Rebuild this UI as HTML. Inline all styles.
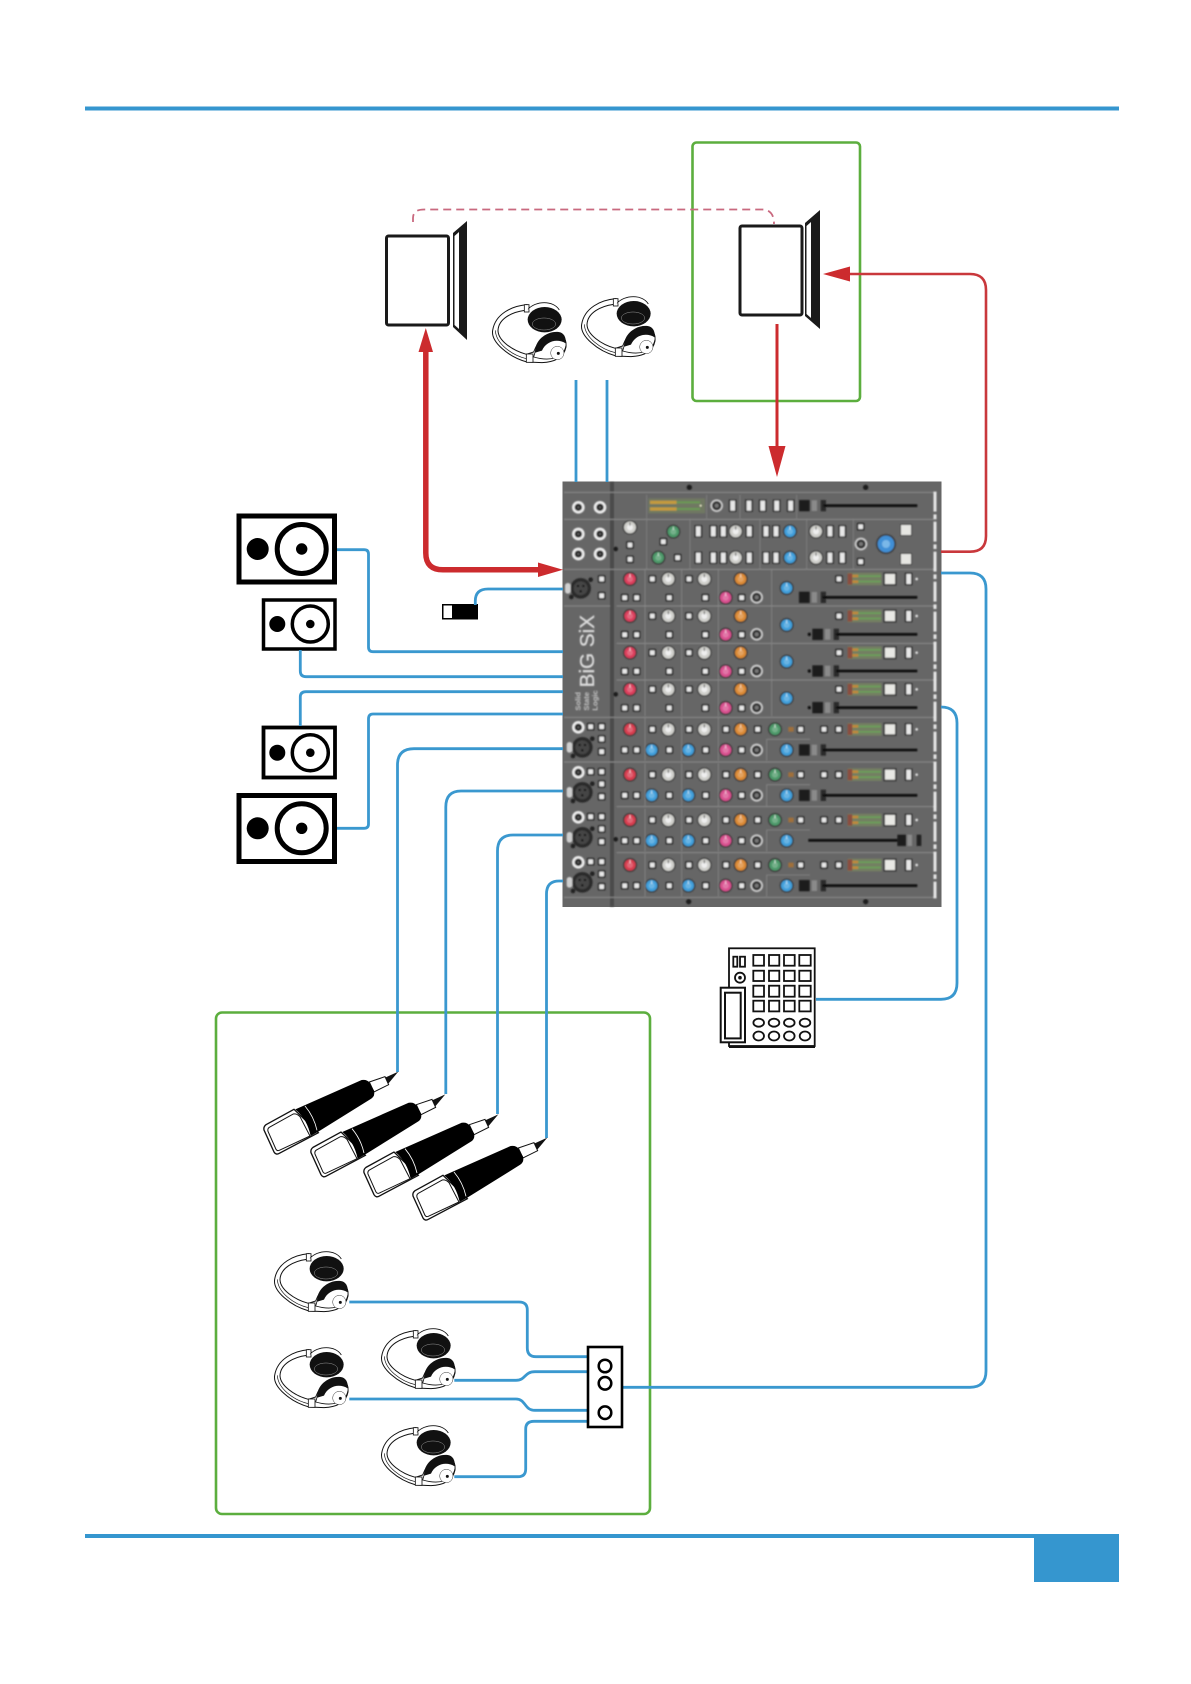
<!DOCTYPE html>
<html><head><meta charset="utf-8"><style>
html,body{margin:0;padding:0;background:#fff}
svg{display:block}
</style></head><body>
<svg xmlns="http://www.w3.org/2000/svg" width="1191" height="1684" viewBox="0 0 1191 1684">
<defs>
<filter id="bl" x="-2%" y="-2%" width="104%" height="104%"><feGaussianBlur stdDeviation="2.2"/></filter>
<g id="b"><rect x="-12" y="-12" width="24" height="24" rx="4" fill="#333"/><rect x="-7" y="-7" width="14" height="14" rx="2" fill="#e8e8e8"/></g>
<g id="t"><rect x="-12" y="-19" width="24" height="38" rx="2" fill="#333"/><rect x="-7" y="-15" width="14" height="30" fill="#e8e8e8"/></g>
<g id="k"><circle r="21" fill="#383838"/><circle r="17"/><circle r="9" fill="#fff" opacity=".22"/><rect x="-1.5" y="-15" width="3" height="10" fill="#fff" opacity=".7"/></g>
<g id="w"><circle r="22" fill="#3c3c3c"/><circle r="18" fill="#d0d0cc"/><circle r="9" fill="#eee"/><rect x="-1.5" y="-15" width="3" height="10" fill="#555"/></g>
<g id="d"><circle r="19" fill="#cfcfcf"/><circle r="14" fill="#333"/><circle r="6" fill="#777"/></g>
<g id="j"><circle r="19" fill="#ececec"/><circle r="11" fill="#222"/><circle r="4" fill="#555"/></g>
<g id="x"><circle r="31" fill="#2b2b2b"/><circle r="21" fill="#444"/><circle cx="-8" cy="-7" r="3.5" fill="#111"/><circle cx="8" cy="-7" r="3.5" fill="#111"/><circle cy="9" r="3.5" fill="#111"/><circle cx="30" cy="-26" r="7" fill="#222"/><circle cx="-28" cy="26" r="7" fill="#222"/><rect x="-47" y="-16" width="17" height="32" rx="8" fill="#cfcfcf"/></g>
<g id="m"><rect x="893" y="-19" width="102" height="38" fill="#737f62"/><rect x="893" y="-17" width="14" height="34" fill="#8b4d3f"/><rect x="907" y="-13" width="18" height="8" fill="#c08a3a"/><rect x="907" y="4" width="18" height="8" fill="#c08a3a"/><rect x="925" y="-11" width="68" height="5" fill="#6aa05a"/><rect x="925" y="5" width="68" height="5" fill="#6aa05a"/><rect x="1000" y="-20" width="40" height="40" fill="#3a3a3a"/><rect x="1005" y="-15" width="30" height="30" fill="#e8e8e4"/><use href="#t" x="1076"/><circle cx="1100" r="4" fill="#ddd"/></g>
<g id="chA">
<use href="#k" x="240" fill="#dc3e5c"/><use href="#b" x="307"/><use href="#w" x="355"/><use href="#b" x="417"/><use href="#w" x="463"/><use href="#k" x="572" fill="#dc8a35"/>
<use href="#b" x="224" y="56"/><use href="#b" x="260" y="56"/><use href="#b" x="358" y="56"/><use href="#b" x="466" y="56"/><use href="#k" x="527" y="56" fill="#d9508f"/><use href="#b" x="575" y="56"/><use href="#d" x="620" y="55"/><use href="#k" x="710" y="27" fill="#3f9fdb"/><use href="#b" x="867"/><use href="#m"/>
<path d="M285 -28V80M395 -28V80M505 -28V80M665 -28V80" stroke="#878787" stroke-width="2.500" fill="none"/>
</g>
<g id="chB">
<use href="#k" x="240" fill="#d83c50"/><use href="#b" x="307"/><use href="#w" x="355"/><use href="#b" x="417"/><use href="#w" x="463"/><use href="#b" x="528"/><use href="#k" x="572" fill="#dc8a35"/><use href="#b" x="623"/><use href="#k" x="675" fill="#4e9a6a"/><rect x="715" y="-7" width="16" height="14" fill="#a0703a"/><use href="#b" x="752"/><use href="#b" x="822"/><use href="#b" x="866"/><use href="#m"/>
<use href="#b" x="224" y="62"/><use href="#b" x="260" y="62"/><use href="#k" x="305" y="62" fill="#3f9fdb"/><use href="#b" x="358" y="62"/><use href="#k" x="415" y="62" fill="#3f9fdb"/><use href="#b" x="467" y="62"/><use href="#k" x="527" y="62" fill="#d9508f"/><use href="#b" x="575" y="62"/><use href="#d" x="620" y="62"/><use href="#k" x="710" y="62" fill="#3f9fdb"/>
<path d="M285 -34V94M395 -34V94M505 -34V94M650 30V94M650 30H780" stroke="#878787" stroke-width="2.500" fill="none"/>
</g>
<g id="lB"><use href="#j" x="85" y="-6"/><use href="#b" x="122" y="-8"/><use href="#b" x="155" y="-8"/><use href="#b" x="155" y="29"/><use href="#b" x="155" y="67"/><use href="#x" x="97" y="54"/></g>
<g id="fa"><rect x="-18" y="-17" width="32" height="34" fill="#1c1c1c"/><rect x="20" y="-16" width="16" height="32" fill="#8a8a8a"/></g>
<g id="hp" transform="scale(.3333)">
<path d="M105 8C60 12 10 35 2 85C-4 120 50 165 105 180L150 182C185 180 215 170 222 135C224 110 210 95 195 92C170 92 140 110 125 150L103 157C60 145 18 115 18 85C20 50 60 30 98 25L115 20Z" fill="#fff" stroke="#111" stroke-width="3"/>
<path d="M10 85C12 125 60 160 103 170" fill="none" stroke="#111" stroke-width="2"/>
<rect x="103" y="156" width="20" height="25" fill="#fff" stroke="#111" stroke-width="2.500"/><rect x="97" y="8" width="14" height="22" fill="#fff" stroke="#111" stroke-width="2.500"/>
<path d="M108 22C130 -4 185 -6 202 24" fill="#fff" stroke="#111" stroke-width="2.500"/>
<ellipse cx="158" cy="53" rx="51" ry="38" fill="#111"/><ellipse cx="156" cy="66" rx="35" ry="18" fill="none" stroke="#999" stroke-width="1.500"/>
<path d="M125 165C170 178 215 172 222 130C224 110 210 95 195 92C160 100 135 125 130 148Z" fill="#fff" stroke="#111" stroke-width="2.500"/>
<path d="M130 152C126 115 165 86 200 90C215 92 223 105 221 124C195 108 162 118 150 146Z" fill="#111"/>
<circle cx="196" cy="153" r="20" fill="#fff" stroke="#333" stroke-width="1.500"/><circle cx="199" cy="154" r="4.500" fill="#111"/>
</g>
<g id="mic" transform="translate(250,1050) scale(.3333)">
<path d="M445 65L403 84L414 102Z" fill="#111"/>
<path d="M358 96L405 80L416 104L372 126Z" fill="#fff" stroke="#111" stroke-width="3"/>
<path d="M48 224L132 178L205 248L88 310Q78 316 72 306L42 240Q40 230 48 224Z" fill="#fff" stroke="#111" stroke-width="4"/>
<path d="M58 232L130 192Q140 190 150 200L180 258L88 301Q82 304 78 298L54 244Q52 236 58 232Z" fill="#fff" stroke="#111" stroke-width="3"/>
<path d="M136 178L335 90Q352 88 358 98L372 122Q376 138 364 146L205 245L182 258C175 225 162 200 136 178Z" fill="#000"/>
<path d="M165 168Q192 200 201 241" stroke="#fff" stroke-width="2.500" fill="none"/>
</g>
</defs>

<rect width="1191" height="1684" fill="#fff"/>

<!-- header / footer -->
<rect x="85" y="106.500" width="1034" height="4" fill="#3596cf"/>
<rect x="85" y="1534" width="1034" height="4" fill="#3596cf"/>
<rect x="1034" y="1534" width="85" height="48" fill="#3596cf"/>

<!-- green frames -->
<rect x="692.500" y="142.500" width="167.500" height="258.500" rx="4" fill="none" stroke="#5cae3e" stroke-width="2.600"/>
<rect x="216" y="1012.500" width="434" height="501.500" rx="6" fill="none" stroke="#5cae3e" stroke-width="2.600"/>

<!-- dashed link -->
<path d="M413 222V218Q413 209.500 424 209.500H762Q774 209.500 774 224" fill="none" stroke="#c9697f" stroke-width="1.800" stroke-dasharray="8 5"/>

<!-- laptops -->
<rect x="386.500" y="236" width="62" height="89" rx="2" fill="#fff" stroke="#1a1a1a" stroke-width="3"/>
<path d="M453 233L467 221V340L453 327Z" fill="#1a1a1a"/><path d="M454.500 236L459 232V329L454.500 325Z" fill="#fff"/>
<rect x="740" y="226" width="62" height="89" rx="2" fill="#fff" stroke="#1a1a1a" stroke-width="3"/>
<path d="M805 223L820 210V329L805 316Z" fill="#1a1a1a"/><path d="M806.500 226L811 222V318L806.500 314Z" fill="#fff"/>

<!-- headphones -->
<use href="#hp" transform="translate(492,302)"/>
<use href="#hp" transform="translate(581,296)"/>
<use href="#hp" transform="translate(274,1251)"/>
<use href="#hp" transform="translate(381,1328)"/>
<use href="#hp" transform="translate(274,1347)"/>
<use href="#hp" transform="translate(381,1425)"/>

<!-- mixer -->
<rect x="562.500" y="481.500" width="379" height="425.500" fill="#666"/>
<g transform="translate(550,470) scale(.33333)" filter="url(#bl)">
<rect x="180" y="36" width="12" height="1274" fill="#4c4c4c"/>
<path d="M42 67H1160M42 148H1160M42 298H1160M42 408H180M200 408H1160M200 520H1160M200 630H1160M42 742H1160M42 876H1160M200 1010H1160M200 1148H1160M42 1282H1160" stroke="#8c8c8c" stroke-width="3" fill="none"/>
<path d="M290 75V145M470 75V145M570 75V145M740 75V145M290 150V298M420 150V298M630 150V298M770 150V298M910 150V298" stroke="#828282" stroke-width="2.500" fill="none"/>
<path d="M1155 65V1285" stroke="#e6e6e6" stroke-width="9" stroke-dasharray="60 8 14 8" fill="none"/>
<circle cx="418" cy="52" r="8" fill="#1c1c1c"/><circle cx="947" cy="52" r="8" fill="#1c1c1c"/><circle cx="416" cy="1295" r="8" fill="#1c1c1c"/><circle cx="947" cy="1295" r="8" fill="#1c1c1c"/><circle cx="197" cy="237" r="7" fill="#1c1c1c"/><circle cx="197" cy="673" r="7" fill="#1c1c1c"/><circle cx="197" cy="1108" r="7" fill="#1c1c1c"/>
<use href="#j" x="85" y="112"/><use href="#j" x="150" y="112"/><use href="#j" x="85" y="192"/><use href="#j" x="150" y="192"/><use href="#j" x="85" y="252"/><use href="#j" x="150" y="252"/>
<use href="#x" x="92" y="355"/><use href="#b" x="155" y="327"/><use href="#b" x="155" y="377"/>

<!-- master top row -->
<rect x="295" y="85" width="170" height="45" fill="#6f7862"/>
<rect x="300" y="92" width="80" height="10" fill="#c49a3c"/><rect x="300" y="112" width="80" height="10" fill="#c49a3c"/><rect x="380" y="94" width="70" height="6" fill="#6a9a55"/><rect x="380" y="114" width="70" height="6" fill="#6a9a55"/><circle cx="452" cy="107" r="3" fill="#e8e8c8"/>
<use href="#d" x="500" y="107"/><use href="#t" x="548" y="107"/><use href="#t" x="597" y="107"/><use href="#t" x="638" y="107"/><use href="#t" x="680" y="107"/><use href="#t" x="722" y="107"/>
<use href="#fa" x="765" y="107"/><rect x="812" y="90" width="16" height="34" fill="#2b2b2b"/><rect x="820" y="103" width="282" height="8" fill="#111"/>

<!-- master row 2/3 -->
<use href="#w" x="240" y="172"/><use href="#b" x="240" y="225"/><use href="#b" x="240" y="268"/>
<use href="#k" x="370" y="185" fill="#4e9a6a"/><use href="#k" x="325" y="263" fill="#4e9a6a"/><use href="#b" x="340" y="215"/><use href="#b" x="383" y="263"/>
<use href="#t" x="445" y="184"/><use href="#t" x="490" y="184"/><use href="#t" x="520" y="184"/><use href="#w" x="557" y="184"/><use href="#t" x="598" y="184"/><use href="#t" x="648" y="184"/><use href="#t" x="678" y="184"/><use href="#k" x="720" y="184" fill="#3f9fdb"/><use href="#w" x="798" y="184"/><use href="#t" x="840" y="184"/><use href="#t" x="877" y="184"/>
<use href="#t" x="445" y="263"/><use href="#t" x="490" y="263"/><use href="#t" x="520" y="263"/><use href="#w" x="557" y="263"/><use href="#t" x="598" y="263"/><use href="#t" x="648" y="263"/><use href="#t" x="678" y="263"/><use href="#k" x="720" y="263" fill="#3f9fdb"/><use href="#w" x="798" y="263"/><use href="#t" x="840" y="263"/><use href="#t" x="877" y="263"/>
<use href="#b" x="932" y="170"/><use href="#d" x="933" y="222"/><use href="#b" x="932" y="275"/>
<circle cx="1008" cy="222" r="30" fill="#3c3c3c"/><circle cx="1008" cy="222" r="25" fill="#3f8fd6"/><circle cx="1008" cy="222" r="12" fill="#7ab8e8"/>
<rect x="1050" y="162" width="36" height="36" fill="#3f3f3f"/><rect x="1053" y="165" width="30" height="30" fill="#e6e6e2"/>
<rect x="1050" y="249" width="36" height="36" fill="#3f3f3f"/><rect x="1053" y="252" width="30" height="30" fill="#e6e6e2"/>

<!-- channels 1-4 -->
<use href="#chA" y="327"/><use href="#fa" x="765" y="382"/><rect x="812" y="365" width="16" height="34" fill="#2b2b2b"/><rect x="818" y="378" width="284" height="8" fill="#111"/>
<use href="#chA" y="438"/><circle cx="778" cy="493" r="5" fill="#111"/><use href="#fa" x="805" y="493"/><rect x="851" y="476" width="16" height="34" fill="#2b2b2b"/><rect x="858" y="489" width="244" height="8" fill="#111"/>
<use href="#chA" y="548"/><circle cx="778" cy="603" r="5" fill="#111"/><use href="#fa" x="805" y="603"/><rect x="851" y="586" width="16" height="34" fill="#2b2b2b"/><rect x="858" y="599" width="244" height="8" fill="#111"/>
<use href="#chA" y="658"/><circle cx="778" cy="713" r="5" fill="#111"/><use href="#fa" x="805" y="713"/><rect x="851" y="696" width="16" height="34" fill="#2b2b2b"/><rect x="858" y="709" width="244" height="8" fill="#111"/>

<!-- channels 5-8 -->
<use href="#chB" y="778"/><use href="#lB" y="778"/><use href="#fa" x="765" y="840"/><rect x="812" y="823" width="16" height="34" fill="#2b2b2b"/><rect x="818" y="836" width="284" height="8" fill="#111"/>
<use href="#chB" y="914"/><use href="#lB" y="913"/><use href="#fa" x="765" y="976"/><rect x="812" y="959" width="16" height="34" fill="#2b2b2b"/><rect x="818" y="972" width="284" height="8" fill="#111"/>
<use href="#chB" y="1050"/><use href="#lB" y="1048"/><rect x="775" y="1107" width="270" height="8" fill="#111"/><rect x="1042" y="1094" width="26" height="34" fill="#1c1c1c"/><rect x="1072" y="1094" width="14" height="34" fill="#8a8a8a"/><rect x="1100" y="1094" width="14" height="34" fill="#222"/>
<use href="#chB" y="1185"/><use href="#lB" y="1183"/><use href="#fa" x="765" y="1247"/><rect x="812" y="1230" width="16" height="34" fill="#2b2b2b"/><rect x="818" y="1243" width="284" height="8" fill="#111"/>

<!-- logo -->
<text transform="translate(132,652) rotate(-90)" font-family="'Liberation Sans',sans-serif" font-size="62" fill="#dcdcdc" stroke="#dcdcdc" stroke-width="1">BiG SiX</text>
<g font-family="'Liberation Sans',sans-serif" font-size="23" font-weight="bold" fill="#c4c4c4">
<text transform="translate(92,722) rotate(-90)">Solid</text>
<text transform="translate(117,722) rotate(-90)">State</text>
<text transform="translate(142,722) rotate(-90)">Logic</text>
</g>
</g>

<!-- speakers -->
<g fill="#fff" stroke="#000">
<rect x="239" y="516" width="95.500" height="66" stroke-width="5"/>
<circle cx="301.700" cy="549" r="24.500" stroke-width="5"/>
<rect x="263.500" y="600" width="71.500" height="49" stroke-width="3.500"/>
<circle cx="310.300" cy="624" r="18" stroke-width="3.500"/>
<rect x="263.500" y="727.500" width="71.500" height="50" stroke-width="3.800"/>
<circle cx="310.300" cy="752.700" r="18" stroke-width="3.500"/>
<rect x="239" y="795.500" width="95.500" height="66" stroke-width="5"/>
<circle cx="301.700" cy="828.300" r="24.500" stroke-width="5"/>
</g>
<g fill="#000">
<circle cx="257.700" cy="549" r="11"/><circle cx="301.700" cy="549" r="5.700"/>
<circle cx="277.300" cy="624" r="8"/><circle cx="310.300" cy="624" r="4.300"/>
<circle cx="277.300" cy="752.700" r="8"/><circle cx="310.300" cy="752.700" r="4.300"/>
<circle cx="257.700" cy="828.300" r="11"/><circle cx="301.700" cy="828.300" r="5.700"/>
</g>

<!-- switch -->
<rect x="442" y="604" width="36" height="15.500" fill="#000"/><rect x="443.500" y="605.500" width="8.500" height="12.500" fill="#fff"/>

<!-- blue cables -->
<g fill="none" stroke="#3a98cf" stroke-width="2.800">
<path d="M576 380V482M607 380V482"/>
<path d="M337 549.700H364Q368.500 549.700 368.500 554V647Q368.500 651.700 373 651.700H563"/>
<path d="M300.300 650V671Q300.300 676.700 306 676.700H563"/>
<path d="M300.300 726V697Q300.300 691.700 306 691.700H563"/>
<path d="M337 828.300H364Q368.500 828.300 368.500 824V719Q368.500 714 373 714H563"/>
<path d="M397.500 1072V765Q397.500 748.700 414 748.700H563"/>
<path d="M445.800 1094V807Q445.800 791 461 791H563"/>
<path d="M497.500 1114V851Q497.500 835 513 835H563"/>
<path d="M546.500 1138V894Q546.500 881 559 881H563"/>
<path d="M475.300 605V601Q475.300 589 488 589H563"/>
<path d="M941 573H970Q986 573 986 589V1371Q986 1387.300 970 1387.300H622"/>
<path d="M941 707Q957 707 957 723V983Q957 999.300 941 999.300H816"/>
<path d="M349.300 1302H519Q527.300 1302 527.300 1310V1348Q527.300 1356.700 536 1356.700H588"/>
<path d="M454.300 1380.300H516C526 1380.300 524 1371.700 535 1371.700H588"/>
<path d="M349.300 1399H516C526 1399 524 1410.300 535 1410.300H588"/>
<path d="M454.300 1476.700H518Q525.700 1476.700 525.700 1469V1429Q525.700 1421.300 534 1421.300H588"/>
</g>

<!-- red cables -->
<path d="M425.800 350V553Q425.800 569.800 443 569.800H540" fill="none" stroke="#cc2b2e" stroke-width="5.500"/>
<path d="M425.800 328L418.500 352H433Z" fill="#cc2b2e"/>
<path d="M563 569.800L538 562.500V577Z" fill="#cc2b2e"/>
<path d="M777 324V450" fill="none" stroke="#cc2b2e" stroke-width="3"/>
<path d="M777 477L768.500 446H785.500Z" fill="#cc2b2e"/>
<path d="M941 551.700H970Q986 551.700 986 536V290Q986 274 970 274H847" fill="none" stroke="#c9383c" stroke-width="2.600"/>
<path d="M823 274L850 266.500V281.500Z" fill="#cc2b2e"/>

<!-- drum machine -->
<g fill="#fff" stroke="#111" stroke-width="1.800">
<rect x="729" y="948.300" width="85.700" height="97.700"/>
<rect x="720.700" y="987.700" width="24.300" height="54.600" stroke-width="2"/>
<rect x="725" y="992.700" width="15.700" height="45.700" stroke-width="2"/>
<rect x="733.300" y="956.700" width="4" height="10"/><rect x="740" y="956.700" width="5" height="10"/>
<circle cx="740" cy="977.700" r="5"/>
<rect x="753.300" y="955" width="10.700" height="10.700"/><rect x="769" y="955" width="10.300" height="10.700"/><rect x="784" y="955" width="10.700" height="10.700"/><rect x="799.300" y="955" width="11.400" height="10.700"/>
<rect x="753.300" y="970.700" width="10.700" height="10.300"/><rect x="769" y="970.700" width="10.300" height="10.300"/><rect x="784" y="970.700" width="10.700" height="10.300"/><rect x="799.300" y="970.700" width="11.400" height="10.300"/>
<rect x="753.300" y="985.700" width="10.700" height="11"/><rect x="769" y="985.700" width="10.300" height="11"/><rect x="784" y="985.700" width="10.700" height="11"/><rect x="799.300" y="985.700" width="11.400" height="11"/>
<rect x="753.300" y="1000.700" width="10.700" height="10.700"/><rect x="769" y="1000.700" width="10.300" height="10.700"/><rect x="784" y="1000.700" width="10.700" height="10.700"/><rect x="799.300" y="1000.700" width="11.400" height="10.700"/>
<ellipse cx="758.700" cy="1022.700" rx="5.300" ry="4"/><ellipse cx="774" cy="1022.700" rx="5.300" ry="4"/><ellipse cx="789.300" cy="1022.700" rx="5.300" ry="4"/><ellipse cx="805" cy="1022.700" rx="5.300" ry="4"/>
<ellipse cx="758.700" cy="1036" rx="5.300" ry="4.500"/><ellipse cx="774" cy="1036" rx="5.300" ry="4.500"/><ellipse cx="789.300" cy="1036" rx="5.300" ry="4.500"/><ellipse cx="805" cy="1036" rx="5.300" ry="4.500"/>
</g>
<rect x="729" y="1045.500" width="86" height="2.500" fill="#111"/><circle cx="740" cy="977.700" r="1.800" fill="#111"/>

<!-- mics -->
<use href="#mic"/>
<use href="#mic" transform="translate(47,22.700)"/>
<use href="#mic" transform="translate(100,42.700)"/>
<use href="#mic" transform="translate(149,66)"/>

<!-- splitter -->
<rect x="588" y="1347" width="34" height="80" fill="#fff" stroke="#000" stroke-width="2.600"/>
<g fill="#fff" stroke="#000" stroke-width="2.500">
<circle cx="605" cy="1366" r="6.300"/><circle cx="605" cy="1383.300" r="6.300"/><circle cx="605" cy="1412.700" r="6.300"/>
</g>
</svg>
</body></html>
